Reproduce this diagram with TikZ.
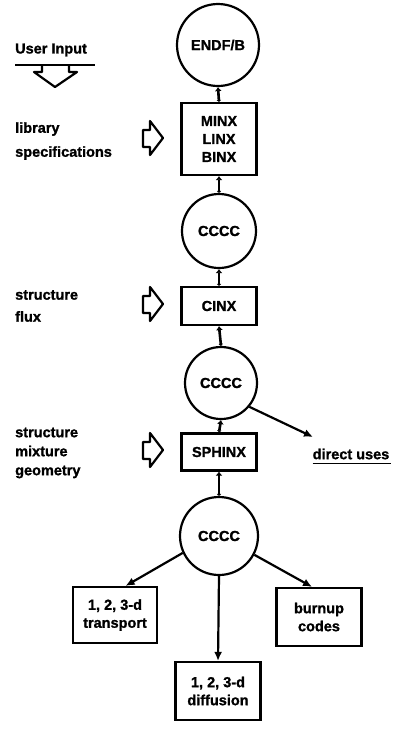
\documentclass[tikz,border=0pt]{standalone}
\usepackage{fontspec}
\setmainfont{Liberation Sans}[BoldFeatures={FakeBold=1.2}]
\usetikzlibrary{arrows.meta}
\begin{document}
\begin{tikzpicture}[x=1pt,y=-1pt,
  txt/.style={font=\bfseries\fontsize{14.5}{18}\selectfont},
  circ/.style={draw,circle,line width=2.2pt,minimum size=#1,inner sep=0pt,txt},
  box/.style={draw,rectangle,line width=2.2pt,minimum width=#1,inner sep=0pt,align=center,txt},
  lbl/.style={anchor=west,align=left,inner sep=0pt,txt},
  link/.style={line width=2.6pt,{Latex[length=4pt,width=7pt]}-{Latex[length=2pt,width=5pt]}},
  flow/.style={line width=2.2pt,-{Latex[length=9pt,width=8pt]}},
  harrow/.pic={\draw[line width=2.2pt,line join=round] (-10,-8) -- (-3,-8) -- (-3,-17) -- (10,0) -- (-3,17) -- (-3,9) -- (-10,9) -- cycle;}
]
\useasboundingbox (0,0) rectangle (394,729);

% main column
\node[circ=82] (endf) at (218,45) {ENDF/B};
\node[box=75,minimum height=72] (minx) at (219,139) {MINX\\LINX\\BINX};
\node[circ=74] (c1) at (219,231) {CCCC};
\node[box=75,minimum height=38] (cinx) at (219,306) {CINX};
\node[circ=72] (c2) at (221,383) {CCCC};
\node[box=75,minimum height=37] (sphinx) at (219,452) {SPHINX};
\node[circ=78] (c3) at (219,536) {CCCC};
\node[box=84,minimum height=56] (trans) at (115,615) {1, 2, 3-d\\transport};
\node[box=85,minimum height=58] (burn) at (319,617) {burnup\\codes};
\node[box=85,minimum height=58] (diff) at (218,691) {1, 2, 3-d\\diffusion};

\draw[link] (endf.south) -- (minx.north);
\draw[link] (minx.south) -- (c1.north);
\draw[link] (c1.south) -- (cinx.north);
\draw[link] (cinx.south) -- (c2.north);
\draw[link] (c2.south) -- (sphinx.north);
\draw[link] (sphinx.south) -- (c3.north);

\draw[flow] (c3.205) -- (trans.70);
\draw[flow] (c3.south) -- (diff.north);
\draw[flow] (c3.-28) -- (burn.103);

% direct uses
\node[txt,inner sep=0pt] (du) at (351,454) {direct uses};
\coordinate (duend) at (313,437);
\draw[flow] (c2.-40) -- (duend);
\draw[line width=1.8pt] (du.south west) ++(0,4) -- ++(78,0);

% user input
\node[lbl] (ui) at (15,50) {User Input};
\coordinate (uil) at (15,65);
\coordinate (uir) at (95,65);
\draw[line width=1.8pt] (uil) -- (uir);
\draw[line width=2.2pt,line join=round] (42,66) -- (42,72) -- (34,72) -- (55,87) -- (77,72) -- (69,72) -- (69,66);

% left labels
\node[lbl,font=\bfseries\fontsize{14.5}{24}\selectfont] (lib) at (15,141) {library\\specifications};
\node[lbl,font=\bfseries\fontsize{14.5}{22}\selectfont] (sf) at (15,306) {structure\\flux};
\node[lbl,font=\bfseries\fontsize{14.5}{19}\selectfont] (smg) at (15,453) {structure\\mixture\\geometry};

\pic at (153,138) {harrow};
\pic at (153,304) {harrow};
\pic at (153,450) {harrow};
\end{tikzpicture}
\end{document}
